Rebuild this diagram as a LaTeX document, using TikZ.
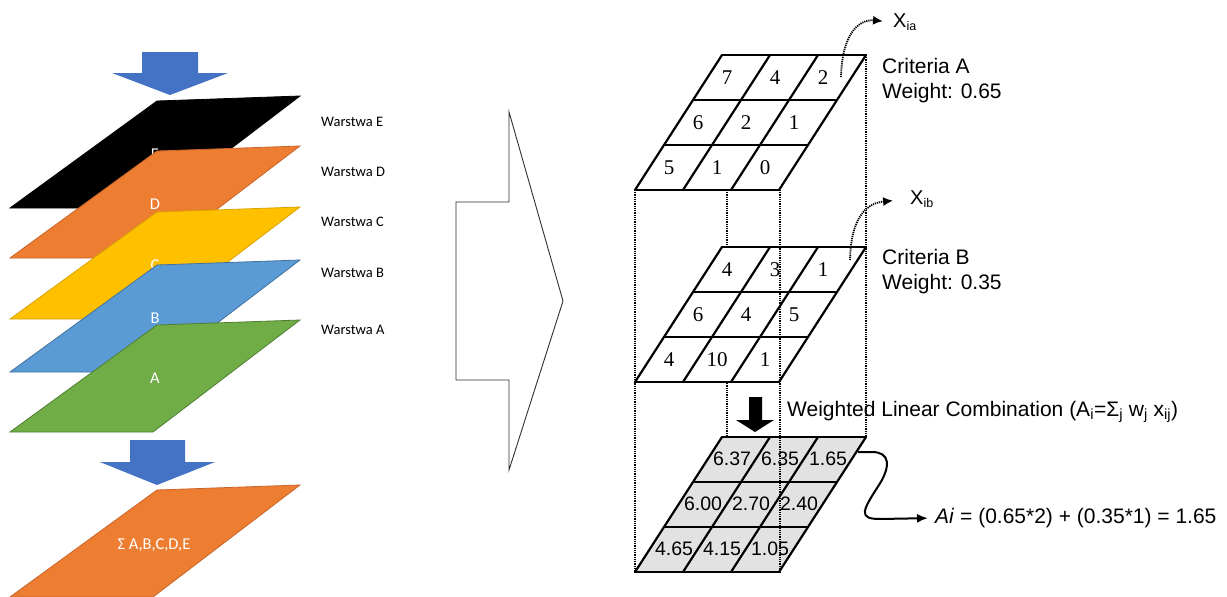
\documentclass[tikz,border=0pt]{standalone}
\usepackage{fontspec}
\setmainfont{Liberation Serif}
\newfontfamily\arialf{Liberation Sans}
\newfontfamily\calf{Carlito}
\usetikzlibrary{arrows.meta}
\definecolor{lyrD}{HTML}{ED7D31}
\definecolor{lyrDe}{HTML}{C9652A}
\definecolor{lyrC}{HTML}{FFC000}
\definecolor{lyrCe}{HTML}{D9A300}
\definecolor{lyrB}{HTML}{5B9BD5}
\definecolor{lyrBe}{HTML}{41719C}
\definecolor{lyrA}{HTML}{70AD47}
\definecolor{lyrAe}{HTML}{507E32}
\definecolor{blueArr}{HTML}{4472C4}
\definecolor{cellgray}{HTML}{E2E2E2}
\definecolor{bigarr}{HTML}{303030}
\newcommand\mygrid[2]{%
  \fill[#2] (722,#1) -- (866,#1) -- (779,#1+135) -- (635,#1+135) -- cycle;
}
\newcommand\mygridlines[1]{%
  \foreach \i in {0,1,2,3} \draw[gridln] (722-29*\i,#1+45*\i) -- (866-29*\i,#1+45*\i);
  \foreach \j in {0,1,2,3} \draw[gridln] (722+48*\j,#1) -- (635+48*\j,#1+135);
}
\begin{document}
\begin{tikzpicture}[x=1pt,y=-1pt,
  layerlab/.style={text=white,font=\calf\fontsize{16.5}{18}\selectfont,inner sep=0},
  warlab/.style={anchor=west,font=\calf\fontsize{14.5}{17}\selectfont,inner sep=0},
  gridln/.style={line width=2.2pt,line cap=round},
  dotln/.style={line width=1.3pt,dash pattern=on 1pt off 0.8pt},
  numA/.style={font=\fontsize{21}{21}\selectfont,inner sep=0},
  numB/.style={font=\arialf\fontsize{19.5}{19.5}\selectfont,inner sep=0},
  sans/.style={font=\arialf\fontsize{21}{25}\selectfont,inner sep=0,anchor=west,align=left},
  dotarr/.style={line width=1.8pt,dash pattern=on 1.2pt off 0.9pt,-{Latex[length=10pt,width=9pt]}},
  solarr/.style={line width=2pt,-{Latex[length=11pt,width=9pt]}}
]
\useasboundingbox (0,0) rectangle (1227,597);
\fill[white] (0,0) rectangle (1227,597);

% ---- left stack ----
\fill[blueArr] (142,52) -- (198,52) -- (198,73) -- (228,73) -- (170,95) -- (112,73) -- (142,73) -- cycle;
\foreach \yb/\col/\edge/\lab in {208/black/black/E, 258/lyrD/lyrDe/D, 319/lyrC/lyrCe/C, 372/lyrB/lyrBe/B, 432/lyrA/lyrAe/A}{
  \filldraw[fill=\col,draw=\edge,line width=0.8pt] (10,\yb) -- (153,\yb) -- (300,\yb-112) -- (157,\yb-107) -- cycle;
  \node[layerlab] (lab\lab) at (155,\yb-54) {\lab};
}
\fill[blueArr] (130,440) -- (185,440) -- (185,462) -- (215,462) -- (157,485) -- (100,462) -- (130,462) -- cycle;
\filldraw[fill=lyrD,draw=lyrDe,line width=0.8pt] (10,597) -- (153,597) -- (300,485) -- (157,490) -- cycle;
\node[layerlab] (labSum) at (154,545) {Σ A,B,C,D,E};

\node[warlab] (wE) at (321,122) {Warstwa E};
\node[warlab] (wD) at (321,172) {Warstwa D};
\node[warlab] (wC) at (321,222) {Warstwa C};
\node[warlab] (wB) at (321,273) {Warstwa B};
\node[warlab] (wA) at (321,330) {Warstwa A};

% ---- big arrow ----
\draw[bigarr,line width=0.9pt,line join=miter] (509,112) -- (509,202) -- (456,202) -- (456,380) -- (509,380) -- (509,470) -- (563,301) -- cycle;

% ---- right figure ----
\mygrid{55}{white}
\mygrid{247}{white}
\mygrid{437}{cellgray}
\draw[dotln] (635,190) -- (635,573);
\draw[dotln] (727,190) -- (727,247);
\draw[dotln] (727,381) -- (727,437);
\draw[dotln] (780,190) -- (780,573);
\draw[dotln] (866,55) -- (866,437);
\mygridlines{55}
\mygridlines{247}
\mygridlines{437}

\foreach \v [count=\k from 0] in {7,4,2,6,2,1,5,1,0}{
  \pgfmathtruncatemacro\gr{int(\k/3)}
  \pgfmathtruncatemacro\gc{mod(\k,3)}
  \node[numA] (ga\k) at (727+48*\gc-29*\gr,78+45*\gr) {\v};
}
\foreach \v [count=\k from 0] in {4,3,1,6,4,5,4,10,1}{
  \pgfmathtruncatemacro\gr{int(\k/3)}
  \pgfmathtruncatemacro\gc{mod(\k,3)}
  \node[numA] (gb\k) at (727+48*\gc-29*\gr,270+45*\gr) {\v};
}
\foreach \v [count=\k from 0] in {6.37,6.35,1.65,6.00,2.70,2.40,4.65,4.15,1.05}{
  \pgfmathtruncatemacro\gr{int(\k/3)}
  \pgfmathtruncatemacro\gc{mod(\k,3)}
  \node[numB] (gc\k) at (732+48*\gc-29*\gr,459+45*\gr) {\v};
}

% black arrow
\fill[black] (749,397) -- (762,397) -- (762,420) -- (774,420) -- (755,432) -- (736,420) -- (749,420) -- cycle;

% texts
\node[sans] (Xia) at (893,22) {\fontsize{20}{20}\selectfont X\raisebox{-3pt}{\fontsize{12.5}{12.5}\selectfont ia}};
\node[sans] (Xib) at (910,199) {\fontsize{20}{20}\selectfont X\raisebox{-3pt}{\fontsize{12.5}{12.5}\selectfont ib}};
\node[sans] (critA) at (882,81) {Criteria A\\Weight: 0.65};
\node[sans] (critB) at (882,272) {Criteria B\\Weight: 0.35};
\node[sans] (wlc) at (787,412) {Weighted Linear Combination (A\textsubscript{i}=Σ\textsubscript{j} w\textsubscript{j} x\textsubscript{ij})};
\node[sans] (Ai) at (935,518) {\textit{Ai} = (0.65*2) + (0.35*1) = 1.65};

% connectors
\coordinate (sA) at (841,77);
\coordinate (sB) at (850,260);
\coordinate (sC) at (858,452);
\draw[dotarr,shorten >=10pt] (sA) .. controls (842,35) and (858,19) .. (Xia.west);
\draw[dotarr,shorten >=17pt] (sB) .. controls (851,215) and (868,203) .. (Xib.west);
\draw[solarr,shorten >=7pt] (sC) -- (872,452) .. controls (890,452) and (891,466) .. (879,485) .. controls (862,511) and (858,519) .. (880,519) -- (Ai.west);
\end{tikzpicture}
\end{document}
